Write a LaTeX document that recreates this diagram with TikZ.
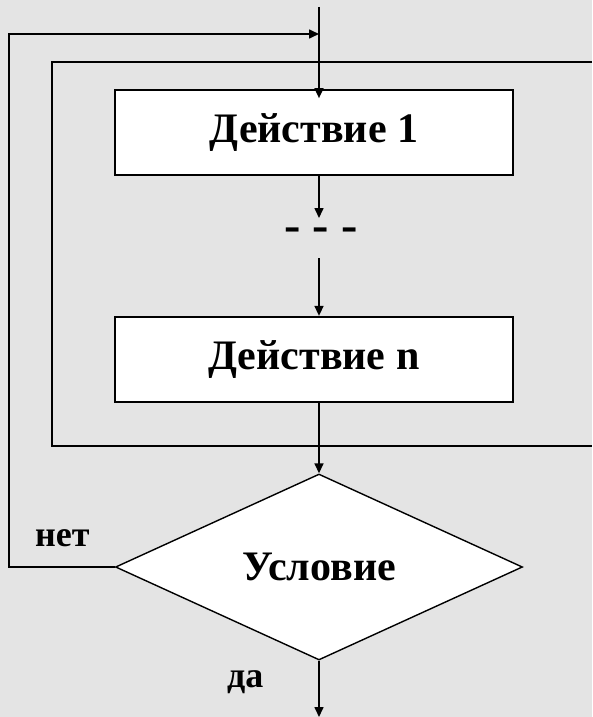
\documentclass[tikz,border=0pt]{standalone}
\usepackage{fontspec}
\setmainfont{Liberation Serif}
\usepackage{xcolor}
\usetikzlibrary{positioning,shapes.geometric,arrows.meta}
\definecolor{marble}{RGB}{228,228,228}

\begin{document}
\begin{tikzpicture}[
    x=1pt, y=1pt,
    box/.style={rectangle, draw, fill=white, line width=1.7pt, minimum width=398pt, minimum height=85pt, inner sep=0pt, font=\fontsize{42}{50}\selectfont\bfseries},
    cond/.style={diamond, draw, fill=white, line width=1.4pt, minimum width=407pt, minimum height=186pt, inner sep=0pt, font=\fontsize{42}{50}\selectfont\bfseries},
    answer/.style={inner sep=0pt, font=\fontsize{36}{43}\selectfont\bfseries},
    line/.style={line width=1.6pt},
    arrow/.style={line width=1.6pt, -{Triangle[length=10pt,width=9pt]}}
]

\useasboundingbox (0,0) rectangle (592,-717);
\fill[marble] (0,0) rectangle (592,-717);

% loop body frame
\draw[line] (592,-62) -| (52,-446) -- (592,-446);

\node[box] (act1) at (314,-132.5) {Действие 1};
\node[box, below=140pt of act1] (actn) {Действие n};
\node[cond] (cond) at (319,-567) {Условие};
\node[inner sep=0pt, font=\fontsize{49}{56}\selectfont\bfseries] (dots) at (321,-235) {- - -};

\node[answer, anchor=base west] (no) at (35,-546) {нет};
\node[answer, anchor=base west] (yes) at (227,-687) {да};

\coordinate (start) at (319,-7);
\coordinate (back) at (9,-34);
\coordinate (join) at (319,-34);
\coordinate (dotsin) at (319,-218);
\coordinate (dotsout) at (319,-258);
\coordinate (finish) at (319,-717);

\draw[arrow] (start) -- (start |- act1.north) -- ++(0,-9);
\draw[arrow] (act1.south -| dotsin) -- (dotsin);
\draw[arrow] (dotsout) -- (actn.north -| dotsout);
\draw[arrow] (actn.south -| cond) -- (cond.north);
\draw[arrow] (cond.west) -| (back) -- (join);
\draw[arrow] (cond.south) -- (finish);

\end{tikzpicture}
\end{document}
